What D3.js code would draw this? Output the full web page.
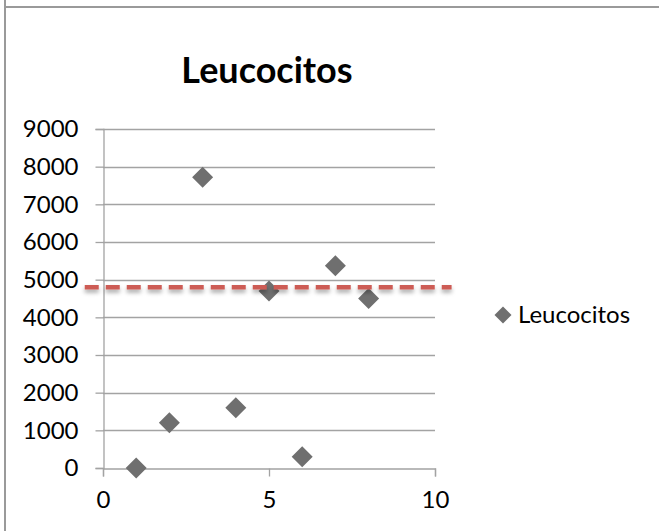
<!DOCTYPE html>
<html>
<head>
<meta charset="utf-8">
<script src="https://cdn.jsdelivr.net/npm/d3@7"></script>
<style>
  html, body { margin: 0; padding: 0; background: #fff; }
  svg { display: block; }
</style>
</head>
<body>
<svg id="chart" width="659" height="531"></svg>
<script>
// Sample numbers and white-cell counts
const sampleX = [1, 2, 3, 4, 5, 6, 7, 8];
const leucocitos = [0, 1200, 7720, 1600, 4700, 300, 5370, 4500];
const xTicks = [0, 5, 10];
const yTicks = [0, 1000, 2000, 3000, 4000, 5000, 6000, 7000, 8000, 9000];
// Reference threshold drawn as a dashed red line
const referenceValue = 4800;
const referenceSpan = [-0.55, 10.5];
const seriesName = "Leucocitos";
const titleText = "Leucocitos";

const svg = d3.select("#chart");
const W = 659, H = 531;
const plot = { left: 103, right: 435, top: 129, bottom: 468 };
const gridColor = "#a3a3a3";
const markerColor = "#6f6f6f";
const font = "Lato, 'Open Sans', sans-serif";

const x = d3.scaleLinear().domain([0, 10]).range([plot.left, plot.right]);
const y = d3.scaleLinear().domain([0, 9000]).range([plot.bottom, plot.top]);

// Outer frame edges
svg.append("line").attr("x1", 5).attr("x2", 5).attr("y1", 0).attr("y2", H)
  .attr("stroke", "#9a9a9a").attr("stroke-width", 2);
svg.append("line").attr("x1", 5).attr("x2", W).attr("y1", 7).attr("y2", 7)
  .attr("stroke", "#9a9a9a").attr("stroke-width", 2);

// Title
svg.append("text")
  .attr("x", 267).attr("y", 83)
  .attr("text-anchor", "middle")
  .attr("font-family", font).attr("font-weight", "bold")
  .attr("font-size", 36).attr("fill", "#000")
  .text(titleText);

// Horizontal gridlines
svg.append("g").selectAll("line").data(yTicks.filter(d => d > 0)).join("line")
  .attr("x1", plot.left).attr("x2", plot.right)
  .attr("y1", d => Math.round(y(d)) + 0.5).attr("y2", d => Math.round(y(d)) + 0.5)
  .attr("stroke", gridColor).attr("stroke-width", 1.3);

// Y axis
const yAxis = svg.append("g")
  .attr("transform", `translate(${plot.left + 0.5},0)`)
  .call(d3.axisLeft(y).tickValues(yTicks).tickSize(8).tickPadding(17).tickFormat(d3.format("d")));
yAxis.select(".domain").attr("stroke", gridColor).attr("stroke-width", 1.3);
yAxis.selectAll(".tick line").attr("stroke", gridColor).attr("stroke-width", 1.3);
yAxis.selectAll(".tick text")
  .attr("font-family", font).attr("font-size", 24).attr("fill", "#000");

// X axis
const xAxis = svg.append("g")
  .attr("transform", `translate(0,${plot.bottom + 0.5})`)
  .call(d3.axisBottom(x).tickValues(xTicks).tickSize(8).tickPadding(14).tickFormat(d3.format("d")));
xAxis.select(".domain").attr("stroke", gridColor).attr("stroke-width", 1.3);
xAxis.selectAll(".tick line").attr("stroke", gridColor).attr("stroke-width", 1.3);
xAxis.selectAll(".tick text")
  .attr("font-family", font).attr("font-size", 24).attr("fill", "#000");

// Diamond markers
const diamond = r => `M0,${-r}L${r},0L0,${r}L${-r},0Z`;
svg.append("g").selectAll("path").data(sampleX.map((d, i) => [d, leucocitos[i]])).join("path")
  .attr("transform", d => `translate(${x(d[0])},${y(d[1])})`)
  .attr("d", diamond(10.5))
  .attr("fill", markerColor);

// Dashed reference line with soft shadow
const defs = svg.append("defs");
const f = defs.append("filter").attr("id", "shadow")
  .attr("filterUnits", "userSpaceOnUse")
  .attr("x", 0).attr("y", 0).attr("width", W).attr("height", H);
f.append("feDropShadow").attr("dx", 0).attr("dy", 3).attr("stdDeviation", 2)
  .attr("flood-color", "#000").attr("flood-opacity", 0.35);
svg.append("line")
  .attr("x1", x(referenceSpan[0])).attr("x2", x(referenceSpan[1]))
  .attr("y1", y(referenceValue)).attr("y2", y(referenceValue))
  .attr("stroke", "#cd5b55").attr("stroke-width", 4.5)
  .attr("stroke-dasharray", "14,7")
  .attr("filter", "url(#shadow)");

// Legend
const legend = svg.append("g").attr("transform", "translate(503,315)");
legend.append("path").attr("d", diamond(8.5)).attr("fill", markerColor);
legend.append("text").attr("x", 15).attr("y", 8)
  .attr("font-family", font).attr("font-size", 24).attr("fill", "#000")
  .text(seriesName);
</script>
</body>
</html>
